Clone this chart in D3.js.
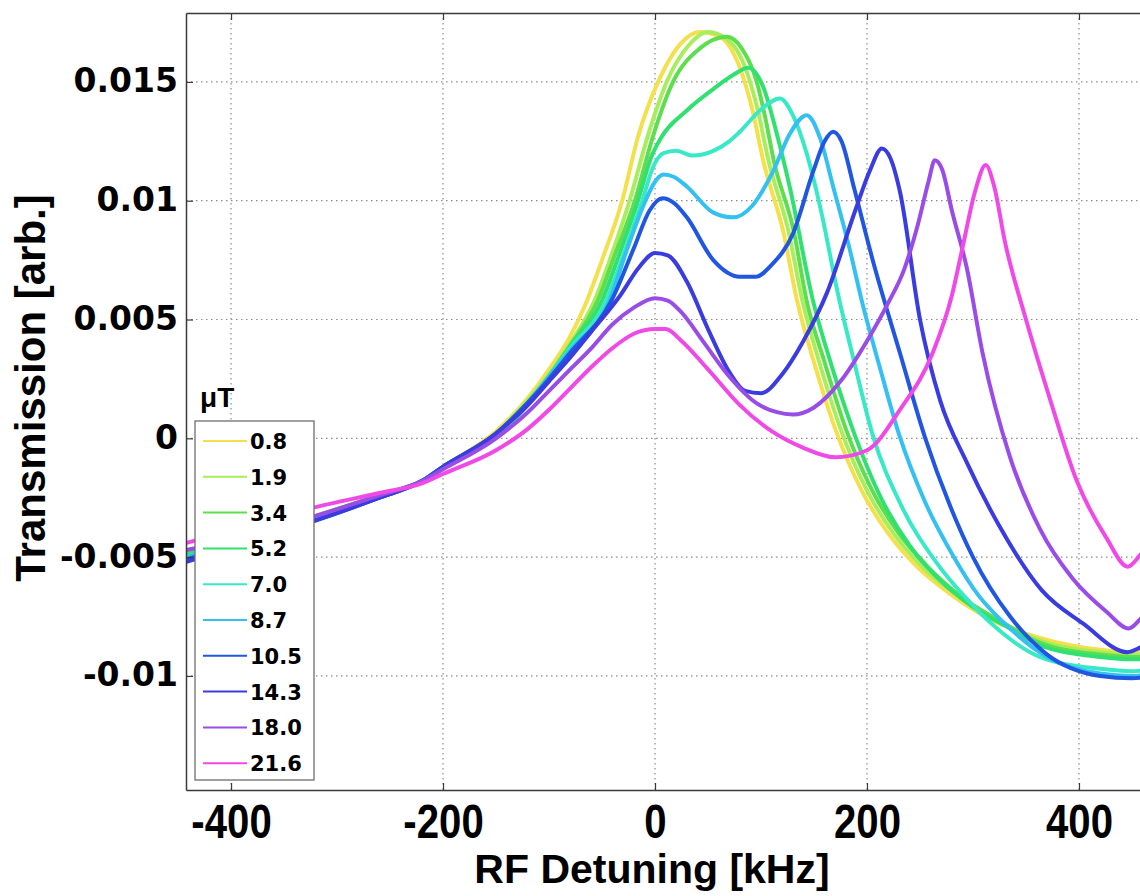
<!DOCTYPE html>
<html>
<head>
<meta charset="utf-8">
<script src="https://cdn.jsdelivr.net/npm/d3@7"></script>
<style>
  body { margin: 0; background: #fff; }
  svg { display: block; }
</style>
</head>
<body>
<svg id="chart"></svg>
<script>
// field strengths (legend) and matching line colours
const fieldLabels = ["0.8", "1.9", "3.4", "5.2", "7.0", "8.7", "10.5", "14.3", "18.0", "21.6"];
const lineColors = ["#f4e04c", "#a8ee5c", "#5ede4e", "#30e070", "#38e8c6", "#34c0f0", "#2056e0", "#3a3ce0", "#9a4ce6", "#f04ae6"];

const xTicks = [-400, -200, 0, 200, 400];
const xTickLabels = ["-400", "-200", "0", "200", "400"];
const yTicks = [-0.01, -0.005, 0, 0.005, 0.01, 0.015];
const yTickLabels = ["-0.01", "-0.005", "0", "0.005", "0.01", "0.015"];

// [detuning kHz, transmission]
const s08 = [[-442,-0.0048],[-400,-0.0042],[-330,-0.0034],[-260,-0.0024],[-220,-0.0018],[-200,-0.0012],[-150,0.0003],[-120,0.0017],[-100,0.0029],[-80,0.0043],[-66,0.0056],[-50,0.0075],[-31,0.0100],[-16,0.0127],[5,0.0152],[24,0.0166],[42,0.0171],[61,0.0169],[80,0.0156],[92,0.0138],[102,0.0117],[121,0.0087],[134,0.0058],[150,0.0032],[170,0.0004],[195,-0.0022],[220,-0.0040],[245,-0.0053],[280,-0.0066],[320,-0.0077],[363,-0.0084],[420,-0.0089],[450,-0.0090],[470,-0.0090]];
const s19 = [[-442,-0.0048],[-400,-0.0042],[-330,-0.0034],[-260,-0.0024],[-220,-0.0018],[-200,-0.0012],[-150,0.0002],[-120,0.0016],[-100,0.0027],[-80,0.0040],[-58,0.0057],[-42,0.0076],[-24,0.0100],[-7,0.0127],[12,0.0151],[31,0.0165],[50,0.0171],[68,0.0168],[86,0.0155],[97,0.0138],[107,0.0117],[126,0.0087],[139,0.0058],[155,0.0032],[175,0.0004],[200,-0.0022],[225,-0.0040],[250,-0.0053],[285,-0.0066],[325,-0.0077],[363,-0.0085],[420,-0.0090],[450,-0.0091],[470,-0.0091]];
const s34 = [[-442,-0.0048],[-400,-0.0043],[-330,-0.0034],[-260,-0.0024],[-220,-0.0018],[-200,-0.0012],[-150,0.0001],[-120,0.0015],[-100,0.0026],[-80,0.0039],[-54,0.0058],[-38,0.0077],[-19,0.0100],[-2,0.0127],[17,0.0150],[42,0.0164],[68,0.0169],[82,0.0164],[96,0.0150],[104,0.0135],[112,0.0117],[131,0.0087],[143,0.0058],[160,0.0032],[180,0.0004],[205,-0.0022],[230,-0.0040],[255,-0.0053],[290,-0.0067],[330,-0.0078],[363,-0.0086],[420,-0.0091],[450,-0.0092],[470,-0.0092]];
const s52 = [[-442,-0.0049],[-400,-0.0043],[-330,-0.0035],[-260,-0.0024],[-220,-0.0018],[-200,-0.0012],[-150,0.0001],[-120,0.0014],[-100,0.0026],[-80,0.0039],[-50,0.0058],[-34,0.0077],[-16,0.0100],[-3,0.0119],[5,0.0126],[30,0.0138],[55,0.0147],[74,0.0153],[88,0.0156],[102,0.0148],[115,0.0128],[127,0.0106],[149,0.0058],[167,0.0030],[188,0.0002],[212,-0.0024],[240,-0.0045],[265,-0.0058],[300,-0.0071],[335,-0.0080],[363,-0.0087],[420,-0.0092],[450,-0.0093],[470,-0.0093]];
const s70 = [[-442,-0.0050],[-400,-0.0044],[-330,-0.0035],[-260,-0.0024],[-220,-0.0018],[-200,-0.0012],[-150,0.0002],[-120,0.0015],[-100,0.0026],[-80,0.0038],[-46,0.0058],[-30,0.0077],[-12,0.0100],[-2,0.0114],[8,0.0120],[20,0.0121],[35,0.0119],[55,0.0121],[70,0.0125],[80,0.0129],[99,0.0138],[118,0.0143],[130,0.0136],[143,0.0120],[157,0.0095],[172,0.0062],[188,0.0032],[205,0.0002],[232,-0.0028],[265,-0.0052],[295,-0.0068],[320,-0.0079],[363,-0.0092],[420,-0.0097],[450,-0.0098],[470,-0.0097]];
const s87 = [[-442,-0.0050],[-400,-0.0044],[-330,-0.0035],[-260,-0.0025],[-220,-0.0018],[-200,-0.0012],[-150,0.0002],[-120,0.0015],[-100,0.0026],[-80,0.0037],[-43,0.0058],[-26,0.0080],[-9,0.0100],[0,0.0108],[8,0.0111],[18,0.0110],[30,0.0106],[55,0.0095],[74,0.0093],[92,0.0098],[111,0.0112],[127,0.0128],[143,0.0136],[156,0.0126],[168,0.0106],[184,0.0079],[195,0.0058],[212,0.0030],[230,0.0002],[255,-0.0027],[282,-0.0050],[305,-0.0066],[330,-0.0078],[370,-0.0092],[420,-0.0099],[450,-0.0100],[470,-0.0099]];
const s105 = [[-442,-0.0051],[-400,-0.0045],[-330,-0.0036],[-260,-0.0025],[-220,-0.0018],[-200,-0.0012],[-150,0.0002],[-120,0.0015],[-100,0.0025],[-80,0.0036],[-41,0.0058],[-20,0.0080],[-5,0.0096],[7,0.0101],[18,0.0099],[30,0.0093],[55,0.0075],[80,0.0068],[95,0.0068],[110,0.0073],[130,0.0086],[149,0.0112],[160,0.0125],[168,0.0129],[176,0.0125],[188,0.0105],[206,0.0074],[231,0.0036],[255,0.0000],[278,-0.0028],[300,-0.0050],[335,-0.0075],[370,-0.0091],[420,-0.0100],[450,-0.0101],[470,-0.0100]];
const s143 = [[-442,-0.0052],[-400,-0.0046],[-330,-0.0036],[-260,-0.0025],[-220,-0.0018],[-200,-0.0012],[-150,0.0002],[-120,0.0014],[-100,0.0024],[-80,0.0034],[-60,0.0045],[-33,0.0060],[-15,0.0072],[0,0.0078],[12,0.0077],[30,0.0066],[50,0.0046],[70,0.0028],[85,0.0020],[100,0.0019],[120,0.0027],[140,0.0041],[162,0.0061],[189,0.0096],[203,0.0113],[214,0.0122],[222,0.0118],[231,0.0104],[250,0.0050],[269,0.0016],[294,-0.0010],[325,-0.0037],[365,-0.0064],[404,-0.0078],[446,-0.0090],[458,-0.0088],[470,-0.0085]];
const s180 = [[-442,-0.0047],[-400,-0.0043],[-330,-0.0034],[-260,-0.0024],[-220,-0.0018],[-200,-0.0013],[-150,0.0000],[-120,0.0011],[-100,0.0020],[-80,0.0029],[-60,0.0038],[-40,0.0048],[-20,0.0055],[0,0.0059],[12,0.0058],[25,0.0053],[45,0.0041],[70,0.0026],[95,0.0015],[115,0.0011],[130,0.0010],[150,0.0013],[175,0.0024],[200,0.0041],[220,0.0057],[235,0.0071],[248,0.0090],[258,0.0108],[264,0.0117],[271,0.0113],[280,0.0096],[294,0.0072],[309,0.0036],[335,-0.0008],[363,-0.0038],[394,-0.0059],[426,-0.0073],[447,-0.0080],[458,-0.0076],[470,-0.0070]];
const s216 = [[-442,-0.0044],[-400,-0.0039],[-330,-0.0030],[-260,-0.0023],[-220,-0.0019],[-200,-0.0015],[-150,-0.0005],[-120,0.0004],[-100,0.0012],[-80,0.0021],[-60,0.0030],[-40,0.0038],[-20,0.0044],[0,0.0046],[10,0.0046],[25,0.0041],[50,0.0029],[80,0.0014],[110,0.0003],[140,-0.0004],[170,-0.0008],[200,-0.0005],[231,0.0012],[262,0.0036],[280,0.0060],[290,0.0080],[302,0.0104],[312,0.0115],[320,0.0106],[330,0.0083],[350,0.0050],[373,0.0016],[398,-0.0018],[426,-0.0042],[446,-0.0054],[458,-0.0049],[470,-0.0043]];

const seriesData = [s08, s19, s34, s52, s70, s87, s105, s143, s180, s216];

const width = 1140;
const height = 896;
const plotLeft = 186, plotRight = 1150, plotTop = 13, plotBottom = 790;

const x = d3.scaleLinear().domain([-442.5, 467]).range([plotLeft, plotRight]);
const y = d3.scaleLinear().domain([-0.0148, 0.0179]).range([plotBottom, plotTop]);

const svg = d3.select("#chart").attr("width", width).attr("height", height);

svg.append("defs").append("clipPath").attr("id", "plot-clip")
  .append("rect")
  .attr("x", plotLeft).attr("y", plotTop)
  .attr("width", plotRight - plotLeft).attr("height", plotBottom - plotTop);

// dotted grid
const grid = svg.append("g");
grid.selectAll("line.vgrid")
  .data(xTicks)
  .join("line")
  .attr("x1", (d) => x(d)).attr("x2", (d) => x(d))
  .attr("y1", plotTop).attr("y2", plotBottom);
grid.selectAll("line.hgrid")
  .data(yTicks)
  .join("line")
  .attr("x1", plotLeft).attr("x2", plotRight)
  .attr("y1", (d) => y(d)).attr("y2", (d) => y(d));
grid.selectAll("line")
  .attr("stroke", "#8c8c8c")
  .attr("stroke-width", 1.2)
  .attr("stroke-dasharray", "1.5,3.5");

// curves
const line = d3.line()
  .x((d) => x(d[0]))
  .y((d) => y(d[1]))
  .curve(d3.curveMonotoneX);

svg.append("g")
  .attr("clip-path", "url(#plot-clip)")
  .selectAll("path")
  .data(seriesData)
  .join("path")
  .attr("d", line)
  .attr("fill", "none")
  .attr("stroke", (d, i) => lineColors[i])
  .attr("stroke-width", 4)
  .attr("stroke-linejoin", "round");

// axes
const axisColor = "#3a3a3a";

const xAxis = svg.append("g")
  .attr("transform", `translate(0,${plotBottom})`)
  .call(d3.axisBottom(x).tickValues(xTicks).tickSizeInner(-7).tickSizeOuter(0)
    .tickFormat((d, i) => xTickLabels[i]));
xAxis.selectAll("text")
  .attr("y", 48)
  .attr("dy", null)
  .attr("transform", "scale(0.82,1)")
  .attr("fill", "#000")
  .style("font-family", "'Liberation Sans', Arial, sans-serif")
  .style("font-weight", "bold")
  .style("font-size", "49px");

const xTop = svg.append("g")
  .attr("transform", `translate(0,${plotTop})`)
  .call(d3.axisTop(x).tickValues(xTicks).tickSizeInner(-7).tickSizeOuter(0).tickFormat(""));

const yAxis = svg.append("g")
  .attr("transform", `translate(${plotLeft},0)`)
  .call(d3.axisLeft(y).tickValues(yTicks).tickSizeInner(-7).tickSizeOuter(0)
    .tickFormat((d, i) => yTickLabels[i]));
yAxis.selectAll("text")
  .attr("x", -8)
  .attr("y", 10)
  .attr("dy", null)
  .attr("fill", "#000")
  .style("font-family", "'DejaVu Sans', sans-serif")
  .style("font-weight", "bold")
  .style("font-size", "33px");

[xAxis, xTop, yAxis].forEach((g) => {
  g.select(".domain").attr("stroke", axisColor).attr("stroke-width", 1.5);
  g.selectAll(".tick line").attr("stroke", axisColor).attr("stroke-width", 1.2);
});

// axis titles
svg.append("text")
  .attr("x", 652)
  .attr("y", 883)
  .attr("text-anchor", "middle")
  .style("font-family", "'Liberation Sans', Arial, sans-serif")
  .style("font-weight", "bold")
  .style("font-size", "41px")
  .text("RF Detuning [kHz]");

svg.append("text")
  .attr("transform", "translate(45,388) rotate(-90)")
  .attr("text-anchor", "middle")
  .style("font-family", "'Liberation Sans', Arial, sans-serif")
  .style("font-weight", "bold")
  .style("font-size", "42px")
  .text("Transmission [arb.]");

// legend
const legend = svg.append("g");
legend.append("rect")
  .attr("x", 195).attr("y", 421)
  .attr("width", 119).attr("height", 359)
  .attr("fill", "#fff")
  .attr("stroke", "#6e6e6e")
  .attr("stroke-width", 1.3);
legend.append("text")
  .attr("x", 200).attr("y", 407)
  .style("font-family", "'Liberation Sans', Arial, sans-serif")
  .style("font-weight", "bold")
  .style("font-size", "28px")
  .text("μT");
legend.selectAll("line")
  .data(fieldLabels)
  .join("line")
  .attr("x1", 203).attr("x2", 247)
  .attr("y1", (d, i) => 441 + i * 35.8)
  .attr("y2", (d, i) => 441 + i * 35.8)
  .attr("stroke", (d, i) => lineColors[i])
  .attr("stroke-width", 2);
legend.selectAll("text.lbl")
  .data(fieldLabels)
  .join("text")
  .attr("class", "lbl")
  .attr("x", 250)
  .attr("y", (d, i) => 449 + i * 35.8)
  .style("font-family", "'DejaVu Sans', sans-serif")
  .style("font-weight", "bold")
  .style("font-size", "21px")
  .text((d) => d);
</script>
</body>
</html>
